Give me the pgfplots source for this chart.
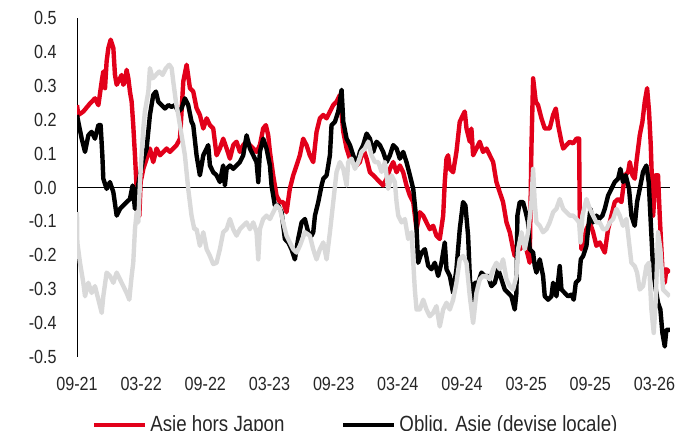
\documentclass[border=0pt]{standalone}
\usepackage{fontspec}
\setmainfont{Liberation Sans}[FakeStretch=0.85]
\usepackage{pgfplots}
\pgfplotsset{compat=1.18}
\definecolor{cred}{RGB}{226,0,26}
\definecolor{cgrey}{RGB}{217,217,217}

\begin{document}
\begin{tikzpicture}
\begin{axis}[
    at={(38.5pt,37pt)}, anchor=south west,
    width=296.5pt, height=169.5pt, scale only axis,
    xmin=0, xmax=55.45, ymin=-0.5, ymax=0.5,
    axis y line*=left, axis x line*=bottom,
    x axis line style={draw=none},
    y axis line style={line width=0.5pt},
    major tick length=0pt,
    xtick={0,6,12,18,24,30,36,42,48,54},
    xticklabels={09-21,03-22,09-22,03-23,09-23,03-24,09-24,03-25,09-25,03-26},
    ytick={-0.5,-0.4,-0.3,-0.2,-0.1,0,0.1,0.2,0.3,0.4,0.5},
    yticklabels={-0.5,-0.4,-0.3,-0.2,-0.1,0.0,0.1,0.2,0.3,0.4,0.5},
    tick label style={font=\fontsize{9.5}{11}\selectfont, text=black!85},
    yticklabel style={anchor=east, inner sep=0pt, xshift=-10pt},
    xticklabel style={anchor=north, inner sep=0pt, yshift=-10pt},
    legend columns=2,
    legend style={draw=none, fill=none, inner sep=0pt,
        at={(axis description cs:0.0253,-0.162)}, anchor=north west,
        font=\fontsize{11}{13}\selectfont,
        nodes={inner sep=1.5pt, text=black!85},
        /tikz/every even column/.append style={column sep=27pt}},
    legend image code/.code={\draw[#1, line width=2pt] (0pt,0pt) -- (25.5pt,0pt);},
    every axis plot/.append style={line join=round},
]
% zero line
\addplot[black, line width=0.5pt, forget plot] coordinates {(0,0) (55.45,0)};

% Asie hors Japon
\addplot[cred, line width=2.2pt] coordinates {
(0,0.243) (0.12,0.214) (0.59,0.224) (1.22,0.248) (1.68,0.263) (2.0,0.243)
(2.31,0.313) (2.46,0.342) (2.62,0.293) (2.77,0.372) (2.93,0.411) (3.15,0.436)
(3.40,0.411) (3.55,0.332) (3.71,0.303) (4.02,0.322) (4.17,0.332) (4.33,0.303)
(4.49,0.313) (4.64,0.347) (4.80,0.322) (4.95,0.283) (5.11,0.253) (5.26,0.184)
(5.42,0.095) (5.58,-0.004) (5.83,-0.083) (5.95,0.016) (6.20,0.055) (6.51,0.085)
(6.82,0.115) (7.13,0.075) (7.44,0.115) (7.76,0.095) (8.07,0.105) (8.38,0.115)
(8.69,0.105) (9.00,0.115) (9.31,0.125) (9.63,0.144) (9.94,0.313) (10.25,0.362)
(10.56,0.293) (10.87,0.283) (11.18,0.234) (11.49,0.214) (11.81,0.174) (12.12,0.204)
(12.43,0.184) (12.74,0.174) (13.05,0.095) (13.36,0.115) (13.67,0.144) (13.99,0.115)
(14.30,0.085) (14.61,0.125) (14.92,0.135) (15.23,0.105) (15.54,0.125) (15.86,0.135)
(16.17,0.125) (16.48,0.115) (16.79,0.105) (17.10,0.125) (17.41,0.174) (17.66,0.184)
(17.88,0.154) (18.04,0.105) (18.35,0.035) (18.66,-0.024) (18.97,-0.043) (19.28,-0.043)
(19.59,-0.073) (19.90,-0.004) (20.22,0.036) (20.53,0.065) (20.84,0.095) (21.15,0.144)
(21.46,0.125) (21.77,0.095) (22.09,0.075) (22.40,0.164) (22.71,0.204) (23.03,0.214)
(23.34,0.204) (23.65,0.224) (23.96,0.243) (24.27,0.253) (24.58,0.273) (24.90,0.164)
(25.21,0.115) (25.52,0.085) (25.83,0.075) (26.14,0.065) (26.45,0.075) (26.76,0.115)
(27.08,0.085) (27.39,0.045) (27.70,0.036) (28.01,0.026) (28.32,0.016) (28.63,0.006)
(28.95,0.026) (29.26,0.055) (29.57,0.075) (29.88,0.045) (30.19,0.065) (30.50,0.045)
(30.81,0.006) (31.13,-0.024) (31.44,-0.043) (31.75,-0.123) (32.06,-0.073) (32.37,-0.083)
(32.68,-0.103) (32.99,-0.123) (33.30,-0.113) (33.61,-0.142) (33.92,-0.152) (34.24,-0.083)
(34.39,0.016) (34.55,0.085) (34.70,0.095) (34.86,0.055) (35.17,0.045) (35.48,0.105)
(35.79,0.194) (36.10,0.214) (36.26,0.224) (36.42,0.174) (36.73,0.135) (36.88,0.174)
(37.04,0.095) (37.35,0.115) (37.66,0.135) (37.97,0.105) (38.29,0.115) (38.60,0.095)
(38.91,0.075) (39.22,0.016) (39.53,-0.014) (39.84,-0.043) (40.16,-0.103) (40.47,-0.132)
(40.78,-0.182) (40.93,-0.202) (41.09,-0.172) (41.40,-0.182) (41.71,-0.172) (42.02,-0.182)
(42.33,-0.222) (42.49,0.115) (42.65,0.322) (42.90,0.253) (43.11,0.243) (43.43,0.204)
(43.74,0.174) (44.20,0.174) (44.52,0.214) (44.77,0.233) (44.99,0.184) (45.30,0.135)
(45.46,0.115) (45.77,0.125) (46.08,0.135) (46.39,0.130) (46.70,0.144) (46.95,0.144)
(47.01,-0.083) (47.17,-0.182) (47.33,-0.162) (47.64,-0.123) (47.95,-0.103) (48.26,-0.132)
(48.57,-0.172) (48.88,-0.162) (49.19,-0.182) (49.35,-0.192) (49.66,-0.123) (49.97,-0.083)
(50.28,-0.043) (50.60,-0.034) (50.91,-0.043) (51.22,0.036) (51.53,0.045) (51.69,0.075)
(51.94,0.036) (52.15,0.026) (52.31,0.075) (52.62,0.154) (52.87,0.194) (53.09,0.253)
(53.31,0.293) (53.49,0.224) (53.65,0.125) (53.87,-0.083) (54.12,0.036) (54.33,0.036)
(54.49,-0.083) (54.74,-0.241) (54.96,-0.281) (55.11,-0.241) (55.43,-0.251)
};
\addlegendentry{Asie hors Japon}

% Oblig. Asie (devise locale)
\addplot[black, line width=2.2pt] coordinates {
(0,0.214) (0.12,0.194) (0.44,0.144) (0.75,0.105) (1.06,0.154) (1.37,0.164)
(1.68,0.144) (2.00,0.184) (2.21,0.184) (2.37,0.095) (2.46,0.026) (2.77,-0.004)
(3.08,0.016) (3.40,-0.014) (3.71,-0.083) (4.02,-0.063) (4.33,-0.053) (4.64,-0.043)
(4.95,-0.034) (5.20,0.006) (5.42,-0.063) (5.58,-0.014) (5.89,0.036) (6.20,0.085)
(6.51,0.115) (6.82,0.214) (7.13,0.273) (7.38,0.283) (7.60,0.253) (7.91,0.243)
(8.22,0.233) (8.54,0.243) (8.85,0.238) (9.16,0.243) (9.47,0.224) (9.78,0.233)
(10.09,0.263) (10.40,0.243) (10.71,0.194) (10.87,0.184) (11.18,0.095) (11.49,0.036)
(11.81,0.095) (12.12,0.115) (12.27,0.125) (12.43,0.065) (12.74,0.045) (13.05,0.036)
(13.36,0.016) (13.67,0.065) (13.83,0.006) (13.99,0.055) (14.30,0.065) (14.61,0.055)
(14.92,0.065) (15.23,0.075) (15.54,0.095) (15.86,0.154) (16.17,0.115) (16.48,0.095)
(16.79,0.075) (16.95,0.016) (17.10,0.105) (17.41,0.144) (17.72,0.115) (18.04,0.065)
(18.19,0.006) (18.50,-0.053) (18.82,-0.053) (19.13,-0.073) (19.44,-0.152) (19.75,-0.162)
(20.06,-0.182) (20.37,-0.212) (20.68,-0.152) (21.00,-0.103) (21.31,-0.093) (21.62,-0.132)
(21.93,-0.142) (22.09,-0.132) (22.25,-0.083) (22.56,-0.043) (22.87,0.006) (23.03,0.026)
(23.34,0.036) (23.65,0.095) (23.80,0.184) (24.12,0.194) (24.43,0.224) (24.74,0.288)
(24.90,0.194) (25.21,0.144) (25.52,0.125) (25.83,0.095) (26.14,0.065) (26.45,0.105)
(26.76,0.125) (27.08,0.159) (27.39,0.144) (27.70,0.105) (28.01,0.135) (28.32,0.125)
(28.63,0.105) (28.95,0.075) (29.26,0.095) (29.57,0.125) (29.88,0.115) (30.19,0.085)
(30.50,0.105) (30.81,0.075) (31.13,0.036) (31.44,-0.004) (31.69,-0.083) (31.90,-0.222)
(32.22,-0.192) (32.53,-0.182) (32.84,-0.231) (33.15,-0.241) (33.46,-0.222) (33.77,-0.261)
(34.08,-0.222) (34.39,-0.162) (34.55,-0.241) (34.86,-0.261) (35.17,-0.311) (35.48,-0.241)
(35.79,-0.123) (36.10,-0.043) (36.32,-0.053) (36.57,-0.142) (36.73,-0.261) (36.88,-0.350)
(37.20,-0.281) (37.51,-0.281) (37.82,-0.251) (38.13,-0.261) (38.44,-0.261) (38.75,-0.291)
(39.07,-0.281) (39.38,-0.241) (39.69,-0.271) (40.00,-0.301) (40.31,-0.311) (40.62,-0.321)
(40.93,-0.360) (41.09,-0.311) (41.18,-0.083) (41.40,-0.043) (41.71,-0.043) (41.96,-0.073)
(42.18,-0.103) (42.33,-0.182) (42.65,-0.192) (42.80,-0.231) (42.96,-0.251) (43.27,-0.212)
(43.58,-0.261) (43.74,-0.321) (44.05,-0.331) (44.36,-0.321) (44.52,-0.281) (44.83,-0.321)
(45.14,-0.232) (45.30,-0.301) (45.61,-0.311) (45.92,-0.321) (46.23,-0.316) (46.45,-0.331)
(46.64,-0.281) (46.95,-0.271) (47.11,-0.212) (47.33,-0.202) (47.64,-0.172) (47.79,-0.123)
(48.01,-0.063) (48.26,-0.103) (48.57,-0.083) (48.82,-0.093) (49.13,-0.083) (49.35,-0.063)
(49.66,-0.024) (49.97,-0.004) (50.28,0.016) (50.60,0.026) (50.81,0.055) (51.06,0.016)
(51.31,0.036) (51.62,-0.004) (51.84,-0.083) (52.15,-0.113) (52.37,-0.043) (52.62,-0.004)
(52.93,0.046) (53.24,0.065) (53.46,0.016) (53.65,-0.103) (53.87,-0.241) (54.12,-0.301)
(54.33,-0.340) (54.55,-0.360) (54.74,-0.429) (54.96,-0.469) (55.11,-0.420) (55.43,-0.420)
};
\addlegendentry{Oblig. Asie (devise locale)}

% third series (grey)
\addplot[cgrey, line width=2.2pt] coordinates {
(0,-0.073) (0.03,-0.162) (0.28,-0.222) (0.59,-0.281) (0.75,-0.321) (1.06,-0.281)
(1.37,-0.311) (1.68,-0.291) (2.00,-0.331) (2.31,-0.370) (2.46,-0.321) (2.77,-0.251)
(3.08,-0.261) (3.40,-0.281) (3.71,-0.251) (4.02,-0.271) (4.33,-0.291) (4.64,-0.311)
(4.89,-0.331) (5.11,-0.261) (5.26,-0.222) (5.42,-0.123) (5.58,-0.073) (5.73,-0.103)
(5.89,0.016) (6.04,0.095) (6.20,0.174) (6.35,0.224) (6.67,0.283) (6.82,0.352)
(7.07,0.322) (7.38,0.332) (7.69,0.342) (8.00,0.332) (8.32,0.352) (8.63,0.362)
(8.85,0.352) (9.00,0.313) (9.25,0.253) (9.47,0.214) (9.78,0.154) (10.09,0.095)
(10.40,-0.004) (10.71,-0.083) (10.97,-0.123) (11.18,-0.123) (11.49,-0.172) (11.81,-0.132)
(12.12,-0.182) (12.43,-0.202) (12.74,-0.226) (13.05,-0.222) (13.36,-0.182) (13.67,-0.132)
(13.99,-0.123) (14.30,-0.093) (14.61,-0.123) (14.92,-0.142) (15.23,-0.123) (15.54,-0.113)
(15.86,-0.103) (16.17,-0.123) (16.48,-0.103) (16.79,-0.132) (16.95,-0.212) (17.10,-0.123)
(17.41,-0.093) (17.72,-0.083) (18.04,-0.093) (18.35,-0.073) (18.66,-0.053) (18.97,-0.063)
(19.28,-0.103) (19.59,-0.142) (19.90,-0.162) (20.22,-0.182) (20.53,-0.192) (20.84,-0.172)
(21.31,-0.132) (21.77,-0.142) (22.09,-0.182) (22.40,-0.212) (22.71,-0.182) (23.03,-0.162)
(23.34,-0.212) (23.65,-0.132) (23.96,-0.043) (24.27,0.046) (24.58,0.075) (24.90,0.055)
(25.21,0.006) (25.36,0.075) (25.67,0.085) (25.99,0.055) (26.30,0.075) (26.61,0.105)
(26.92,0.115) (27.23,0.135) (27.54,0.095) (27.85,0.075) (28.17,0.075) (28.48,0.046)
(28.79,0.075) (29.10,-0.004) (29.41,0.036) (29.72,0.016) (29.88,-0.043) (30.04,-0.083)
(30.35,-0.103) (30.66,-0.093) (30.97,-0.152) (31.28,-0.132) (31.59,-0.301) (31.75,-0.360)
(32.06,-0.360) (32.37,-0.331) (32.68,-0.360) (32.99,-0.380) (33.30,-0.370) (33.61,-0.350)
(33.92,-0.410) (34.24,-0.360) (34.55,-0.340) (34.86,-0.360) (35.17,-0.331) (35.48,-0.281)
(35.79,-0.212) (36.10,-0.202) (36.42,-0.222) (36.73,-0.321) (37.04,-0.400) (37.35,-0.311)
(37.66,-0.271) (37.97,-0.261) (38.29,-0.261) (38.60,-0.271) (38.91,-0.241) (39.22,-0.222)
(39.53,-0.241) (39.84,-0.212) (40.16,-0.271) (40.47,-0.291) (40.78,-0.301) (41.09,-0.261)
(41.25,-0.182) (41.56,-0.132) (41.87,-0.182) (42.18,-0.132) (42.49,-0.043) (42.65,0.055)
(42.80,-0.043) (42.96,-0.103) (43.27,-0.113) (43.58,-0.132) (43.90,-0.123) (44.20,-0.103)
(44.52,-0.073) (44.83,-0.063) (45.14,-0.034) (45.46,-0.063) (45.77,-0.073) (46.08,-0.083)
(46.39,-0.083) (46.70,-0.093) (46.95,-0.103) (47.08,-0.162) (47.26,-0.083) (47.64,-0.034)
(47.95,-0.063) (48.26,-0.083) (48.57,-0.103) (48.88,-0.103) (49.19,-0.123) (49.50,-0.123)
(49.82,-0.103) (50.13,-0.093) (50.44,-0.063) (50.75,-0.083) (51.06,-0.113) (51.37,-0.093)
(51.62,-0.162) (51.84,-0.222) (52.15,-0.232) (52.37,-0.251) (52.62,-0.301) (52.93,-0.291)
(53.24,-0.232) (53.49,-0.222) (53.71,-0.360) (53.93,-0.429) (54.12,-0.330) (54.33,-0.132)
(54.55,-0.182) (54.80,-0.301) (55.11,-0.311) (55.43,-0.321)
};
\addlegendentry{Obligations}
\end{axis}
\pgfresetboundingbox
\path[use as bounding box] (0,0) rectangle (339.5pt,215.5pt);
\end{tikzpicture}
\end{document}
